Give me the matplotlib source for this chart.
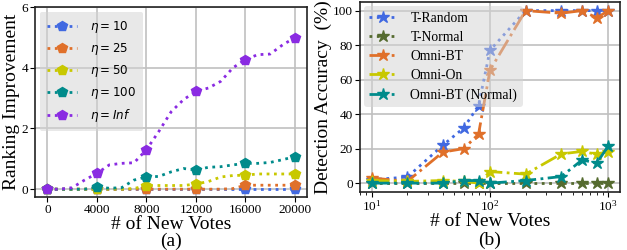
import numpy as np
import matplotlib
matplotlib.use("Agg")
from matplotlib import pyplot as plt

# panel (a): ranking improvement, sampled every 1000 votes
votes = np.arange(0, 21000, 1000)
eta_10 = [0] * 21
eta_25 = [0, 0, 0, 0, 0, 0, 0, 0, 0, 0, 0, 0, 0, 0, 0, 0.02, 0.13,
          0.13, 0.13, 0.13, 0.13]
eta_50 = [0, 0, 0, 0, 0, 0, 0, 0.02, 0.12, 0.12, 0.12, 0.12, 0.17,
          0.25, 0.4, 0.45, 0.46, 0.5, 0.5, 0.5, 0.5]
eta_100 = [0, 0, 0, 0, 0.07, 0.03, 0.05, 0.3, 0.4, 0.42, 0.57, 0.68, 0.63,
           0.72, 0.74, 0.8, 0.85, 0.85, 0.88, 0.97, 1.07]
eta_inf = [0, 0, 0.05, 0.3, 0.52, 0.8, 0.85, 0.87, 1.3, 1.9, 2.55, 2.95, 3.22,
           3.33, 3.55, 4.0, 4.27, 4.43, 4.45, 4.75, 4.99]

# panel (b): detection accuracy
new_votes = [10, 20, 40, 60, 80, 100, 200, 400, 600, 800, 1000]
t_random = [2, 3.5, 22, 32, 45, 77, 100, 100, 100, 100, 100]
t_normal = [0] * 11
omni_bt = [3, 1, 18, 20, 28.4, 65.5, 100, 98.5, 100, 95.8, 100]
omni_on = [1.5, 1, 1.5, 1, 0, 6.7, 5.2, 16.9, 18.4, 16.7, 18.2]
omni_bt_normal = [0, 0, 0, 1.5, 1.5, 0, 1.5, 3.8, 13.4, 11.7, 21.5]

plt.rcParams['font.family'] = 'Liberation Serif'
plt.rcParams['mathtext.fontset'] = 'dejavusans'

BLUE = '#4169e1'
ORANGE = '#e0702a'
YELLOW = '#c8c800'
TEAL = '#008b8b'
PURPLE = '#8a2be2'
OLIVE = '#556b2f'

fig = plt.figure(figsize=(6.27, 2.5), dpi=100)
ax1 = fig.add_axes([0.056, 0.213, 0.434, 0.759])
ax2 = fig.add_axes([0.574, 0.233, 0.415, 0.759])

for ax in (ax1, ax2):
    ax.grid(True, color='#c0c0c0', linewidth=1.2)
    ax.set_axisbelow(True)
    for s in ax.spines.values():
        s.set_color('#222222')
        s.set_linewidth(1.2)
    ax.tick_params(labelsize=9.5, pad=1.5)

kw = dict(marker='p', markersize=7, linestyle=':', linewidth=2, markevery=4)
ax1.plot(votes, eta_10, color=BLUE, label=r'$\eta=10$', **kw)
ax1.plot(votes, eta_25, color=ORANGE, label=r'$\eta=25$', **kw)
ax1.plot(votes, eta_50, color=YELLOW, label=r'$\eta=50$', **kw)
ax1.plot(votes, eta_100, color=TEAL, label=r'$\eta=100$', **kw)
ax1.plot(votes, eta_inf, color=PURPLE, label=r'$\eta=Inf$', **kw)
ax1.set_xlim(-1000, 21000)
ax1.set_ylim(-0.25, 6)
ax1.set_xticks([0, 4000, 8000, 12000, 16000, 20000])
ax1.set_yticks([0, 2, 4, 6])
ax1.set_ylabel('Ranking Improvement', fontsize=14, labelpad=1)
ax1.set_xlabel('# of New Votes', fontsize=14)
ax1.xaxis.set_label_coords(0.5, -0.17)
ax1.xaxis.label.set_va('baseline')
ax1.text(0.5, -0.258, '(a)', transform=ax1.transAxes, ha='center',
         va='baseline', fontsize=14)
ax1.legend(loc='upper left', fontsize=8.6, facecolor='lightgray',
           framealpha=0.5, edgecolor='none', borderaxespad=0.4,
           handlelength=2.5, handletextpad=1.1, labelspacing=0.5,
           borderpad=0.6)

ax2.plot(new_votes, t_random, color=BLUE, marker='*', markersize=9,
         linestyle=':', linewidth=2, label='T-Random')
ax2.plot(new_votes, t_normal, color=OLIVE, marker='*', markersize=9,
         linestyle=':', linewidth=2, label='T-Normal')
ax2.plot(new_votes, omni_bt, color=ORANGE, marker='*', markersize=9,
         linestyle='-.', linewidth=2, label='Omni-BT')
ax2.plot(new_votes, omni_on, color=YELLOW, marker='*', markersize=9,
         linestyle='-.', linewidth=2, label='Omni-On')
ax2.plot(new_votes, omni_bt_normal, color=TEAL, marker='*', markersize=9,
         linestyle='-.', linewidth=2, label='Omni-BT (Normal)')
ax2.set_xscale('log')
ax2.set_ylim(-5, 105)
ax2.set_yticks([0, 20, 40, 60, 80, 100])
ax2.set_ylabel('Detection Accuracy  (%)', fontsize=14, labelpad=1)
ax2.set_xlabel('# of New Votes', fontsize=14)
ax2.xaxis.set_label_coords(0.5, -0.18)
ax2.xaxis.label.set_va('baseline')
ax2.text(0.5, -0.282, '(b)', transform=ax2.transAxes, ha='center',
         va='baseline', fontsize=14)
ax2.legend(loc='upper left', fontsize=9.8, facecolor='lightgray',
           framealpha=0.5, edgecolor='none', borderaxespad=0.3,
           handletextpad=1.0, labelspacing=0.45)

fig.savefig('out.png', dpi=100)
